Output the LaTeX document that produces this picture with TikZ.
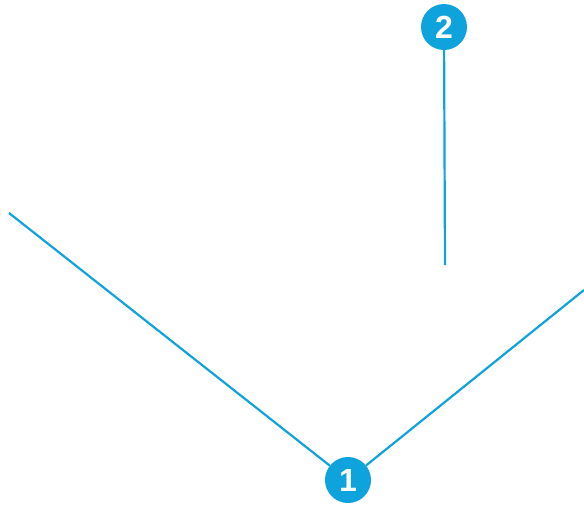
\documentclass[tikz,border=0pt]{standalone}
\usepackage{fontspec}
\setmainfont{Liberation Sans}
\usepackage{tikz}
\usetikzlibrary{positioning}
\definecolor{calloutBlue}{RGB}{14, 163, 221}

\begin{document}
\begin{tikzpicture}[x=1pt, y=-1pt,
  badge/.style={circle, fill=calloutBlue, text=white, inner sep=0pt,
                minimum size=46pt, font=\fontsize{32}{32}\selectfont\bfseries},
  lead/.style={draw=calloutBlue, line width=2.2pt}]

  \useasboundingbox (0,0) rectangle (584,504);

  \node[badge] (one) at (348,480) {1};
  \node[badge] (two) at (444,27)  {2};

  \coordinate (leftEnd)  at (9,213);
  \coordinate (rightEnd) at (584,290);
  \coordinate (midEnd)   at (445,265);

  \draw[lead] (leftEnd)  -- (one);
  \draw[lead] (rightEnd) -- (one);
  \draw[lead] (two) -- (midEnd);

\end{tikzpicture}
\end{document}
